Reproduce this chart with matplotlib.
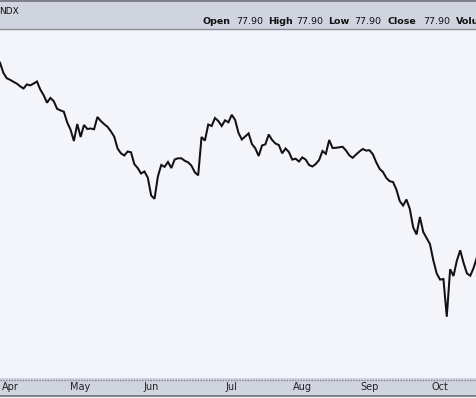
import matplotlib
matplotlib.use("Agg")
import matplotlib.pyplot as plt
from matplotlib.patches import Rectangle
from matplotlib.lines import Line2D

# ---- data (daily closes) ----
closes = [
    97.33, 96.32, 95.78, 95.62, 95.42, 95.24, 94.97, 94.75, 95.16, 95.06,
    95.24, 95.45, 94.64, 94.08, 93.33, 93.81, 93.48, 92.72, 92.56, 92.43,
    91.36, 90.63, 89.50, 91.20, 89.90, 91.10, 90.70, 90.75, 90.67, 91.90,
    91.50, 91.19, 90.92, 90.47, 89.94, 88.75, 88.27, 88.05, 88.45, 88.37,
    87.18, 86.79, 86.25, 86.45, 85.83, 84.05, 83.72, 85.95, 87.10, 86.92,
    87.40, 86.80, 87.65, 87.77, 87.77, 87.52, 87.37, 87.03, 86.37, 86.07,
    89.90, 89.54, 91.15, 91.00, 91.80, 91.50, 91.00, 91.57, 91.37, 92.12,
    91.60, 90.30, 89.65, 89.95, 90.26, 89.20, 88.77, 88.00, 89.05, 89.17,
    90.15, 89.60, 89.25, 89.10, 88.27, 88.75, 88.40, 87.64, 87.73, 87.45,
    87.86, 87.64, 87.10, 86.95, 87.20, 87.60, 88.50, 88.22, 89.60, 88.80,
    88.82, 88.87, 88.92, 88.55, 88.06, 87.82, 88.15, 88.45, 88.70, 88.54,
    88.58, 88.17, 87.37, 86.72, 86.40, 85.81, 85.48, 85.40, 84.65, 83.49,
    83.05, 83.65, 82.70, 80.87, 80.15, 81.90, 80.40, 79.80, 79.19, 77.56,
    76.26, 75.64, 75.70, 71.93, 76.67, 76.00, 77.53, 78.57, 77.32, 76.26,
    76.03, 76.82, 77.90,
]
month_labels = ["Apr", "May", "Jun", "Jul", "Aug", "Sep", "Oct"]
month_start_idx = [3, 24, 45, 69, 90, 110, 131]
symbol = "NDX"
header_fields = [("Open", "77.90"), ("High", "77.90"), ("Low", "77.90"),
                 ("Close", "77.90"), ("Volume", "")]

W, H = 477, 398
BAR = "#d0d4df"
BG = "#f4f5fa"

fig = plt.figure(figsize=(W / 100, H / 100), dpi=100)
fig.patch.set_facecolor(BAR)

def fy(y):
    return 1 - y / H

def fx(x):
    return x / W

# plot area
top_px, bot_px = 29.5, 378
ax = fig.add_axes([0, fy(bot_px), 1, fy(top_px) - fy(bot_px)])
ax.set_facecolor(BG)
x = list(range(len(closes)))
ax.plot(x, closes, color="#111111", lw=1.45, solid_joinstyle="miter")
ax.set_xlim(0, len(closes) - 1)
ax.set_ylim(65.8, 100.65)
for s in ax.spines.values():
    s.set_visible(False)
ax.set_xticks([])
ax.set_yticks([])

# frame lines
fig.add_artist(Line2D([0, 1], [fy(0.5), fy(0.5)], transform=fig.transFigure,
                      color="#6e717a", lw=1.2))
fig.add_artist(Line2D([0, 1], [fy(29), fy(29)], transform=fig.transFigure,
                      color="#8a8d96", lw=1.0))
fig.add_artist(Line2D([0, 1], [fy(379.5), fy(379.5)], transform=fig.transFigure,
                      color="#7c7f88", lw=1.0, linestyle=(0, (1, 1))))
fig.add_artist(Rectangle((0, 0), 1, fy(395.5), transform=fig.transFigure,
                         facecolor="#f2f3f6", edgecolor="none"))
fig.add_artist(Line2D([0, 1], [fy(395.5), fy(395.5)], transform=fig.transFigure,
                      color="#6e717a", lw=1.2))

# header text
fig.text(fx(-0.5), fy(11), symbol, fontsize=6.5, family="DejaVu Sans",
         va="center", ha="left", color="#111111")
hx = [203, 268, 328, 388, 456]
for (lab, val), xp in zip(header_fields, hx):
    fig.text(fx(xp), fy(22), lab, fontsize=6.8, fontweight="bold",
             family="DejaVu Sans", va="center", ha="left", color="#111111")
    if val:
        vx = {"Open": 236, "High": 296, "Low": 354, "Close": 423}[lab]
        fig.text(fx(vx), fy(22), val, fontsize=6.8, family="DejaVu Sans",
                 va="center", ha="left", color="#111111")

# month labels
n = len(closes) - 1
for lab, idx in zip(month_labels, month_start_idx):
    xpix = idx / n * W
    fig.text(fx(xpix), fy(387.5), lab, fontsize=7, family="DejaVu Sans",
             va="center", ha="center", color="#222222")

fig.savefig("out.png", dpi=100, facecolor=fig.get_facecolor())
